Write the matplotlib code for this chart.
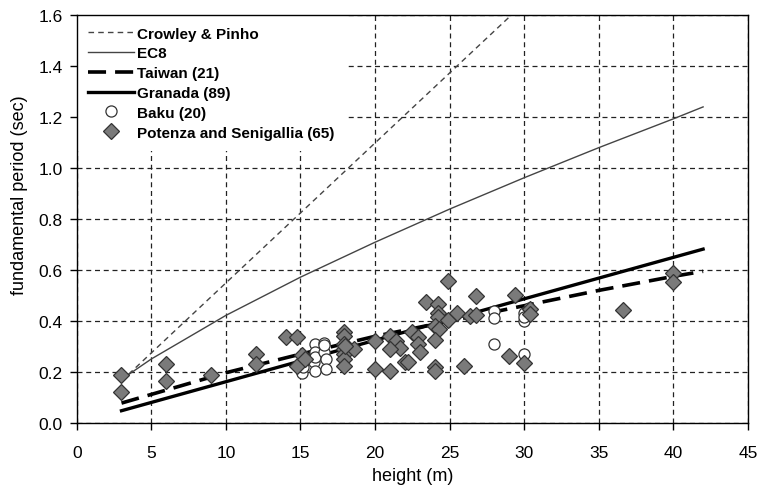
import numpy as np
import matplotlib
matplotlib.use("Agg")
import matplotlib.pyplot as plt

plt.rcParams['font.family'] = ['Liberation Sans', 'DejaVu Sans']

# reference lines
crowley_h = [3, 29.5]
crowley_t = [0.165, 1.62]

ec8_h = [3, 5, 10, 15, 20, 25, 30, 35, 40, 42]
ec8_t = [0.171, 0.251, 0.422, 0.572, 0.709, 0.839, 0.962, 1.080, 1.193, 1.24]

taiwan_h = [3, 10, 15, 20, 25, 30, 35, 40, 42]
taiwan_t = [0.078, 0.197, 0.27, 0.34, 0.40, 0.46, 0.52, 0.575, 0.595]

granada_h = [3, 42]
granada_t = [0.048, 0.682]

# Baku buildings (open circles)
baku_h = [15.1, 15.2, 15.9, 16.0, 16.0, 16.0, 16.0, 16.55, 16.55, 16.7, 16.7, 16.6,
          28.0, 28.0, 28.0, 30.0, 30.0, 30.0, 30.3, 30.0]
baku_t = [0.195, 0.22, 0.24, 0.31, 0.28, 0.205, 0.26, 0.315, 0.28, 0.25, 0.21, 0.305,
          0.44, 0.41, 0.31, 0.43, 0.40, 0.27, 0.45, 0.415]

# Potenza and Senigallia buildings (grey diamonds)
ps_h = [3, 3, 6, 6, 9, 12, 12, 14.0, 14.8, 15.1, 14.8,
        17.9, 17.9, 17.9, 17.9, 17.9, 17.9, 17.9, 18.6, 20.0, 20.0,
        21.0, 21.4, 21.7, 21.0, 22.0, 22.5, 22.9, 22.9, 23.0, 23.4,
        24.2, 24.2, 24.2, 24.0, 24.3, 24.0, 24.0, 24.0, 24.9, 24.9,
        25.5, 26.0, 26.4, 26.8, 26.8, 29.0, 29.4, 30.0, 30.4, 30.4,
        36.6, 40.0, 40.0, 21.0, 22.2, 18.0, 15.3]
ps_t = [0.19, 0.12, 0.23, 0.165, 0.19, 0.27, 0.23, 0.336, 0.336, 0.268, 0.222,
        0.358, 0.342, 0.31, 0.29, 0.27, 0.25, 0.225, 0.29, 0.32, 0.21,
        0.342, 0.32, 0.293, 0.205, 0.238, 0.358, 0.336, 0.31, 0.277, 0.476,
        0.467, 0.43, 0.415, 0.38, 0.37, 0.325, 0.22, 0.205, 0.558, 0.402,
        0.431, 0.225, 0.418, 0.499, 0.425, 0.264, 0.502, 0.235, 0.447, 0.427,
        0.444, 0.587, 0.554, 0.29, 0.24, 0.30, 0.25]

xticks = [0, 5, 10, 15, 20, 25, 30, 35, 40, 45]
yticks = [0.0, 0.2, 0.4, 0.6, 0.8, 1.0, 1.2, 1.4, 1.6]

fig = plt.figure(figsize=(7.6, 4.89), dpi=100)
ax = fig.add_axes([0.101, 0.133, 0.883, 0.834])

ax.plot(crowley_h, crowley_t, color='#444444', lw=1.0, dashes=(4, 3),
        label='Crowley & Pinho', zorder=3)
ax.plot(ec8_h, ec8_t, color='#444444', lw=1.0, label='EC8', zorder=3)
ax.plot(taiwan_h, taiwan_t, color='black', lw=2.6, dashes=(5, 2.5),
        label='Taiwan (21)', zorder=3)
ax.plot(granada_h, granada_t, color='black', lw=2.4, label='Granada (89)', zorder=3)
ax.plot(baku_h, baku_t, ls='none', marker='o', ms=8, mfc='white',
        mec='#333333', mew=0.9, label='Baku (20)', zorder=4)
ax.plot(ps_h, ps_t, ls='none', marker='D', ms=8.5, mfc='#7a7a7a',
        mec='#333333', mew=0.9, label='Potenza and Senigallia (65)', zorder=5)

ax.set_xlim(0, 45)
ax.set_ylim(0, 1.6)
ax.set_xticks(xticks)
ax.set_yticks(yticks)
ax.set_yticklabels([f'{v:.1f}' for v in yticks])
ax.tick_params(direction='out', length=5, width=1, labelsize=12.5, colors='black')
ax.tick_params(axis='x', pad=11)
ax.tick_params(axis='y', pad=5)
ax.grid(True, color='#222222', lw=0.9, dashes=(4, 3))
ax.set_axisbelow(True)
for s in ax.spines.values():
    s.set_linewidth(1.0)
    s.set_zorder(12)

ax.set_xlabel('height (m)', fontsize=13, labelpad=5)
ax.set_ylabel('fundamental period (sec)', fontsize=13, labelpad=4)
ax.yaxis.set_label_coords(-0.072, 0.56)

leg = ax.legend(loc='upper left', borderaxespad=0, frameon=True, fancybox=False,
                handlelength=3.0, handletextpad=0.2, labelspacing=0.38,
                borderpad=0.75, prop={'weight': 'bold', 'size': 11})
leg.get_frame().set_facecolor('white')
leg.get_frame().set_edgecolor('none')
leg.get_frame().set_alpha(1)
leg.set_zorder(10)

fig.savefig('out.png', dpi=100)
